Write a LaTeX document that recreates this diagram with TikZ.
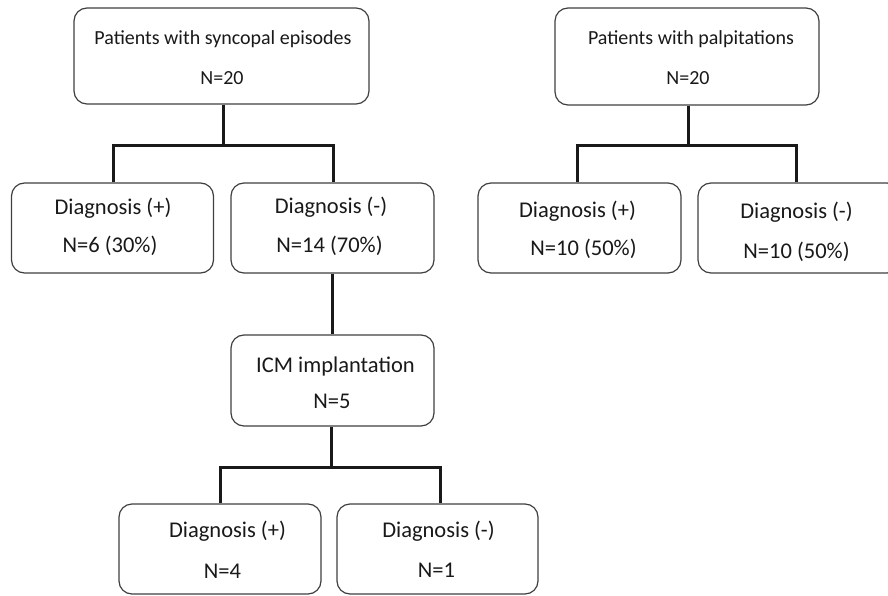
\documentclass[tikz,border=0pt]{standalone}
\usepackage{fontspec}
\setmainfont{Carlito}
\begin{document}
\begin{tikzpicture}[x=1pt,y=-1pt,
  box/.style={draw=black!75,line width=1.2pt,rounded corners=13pt,fill=white,inner sep=0pt,minimum width=#1},
  box/.default=202pt,
  conn/.style={draw=black!90,line width=3pt},
  big/.style={font=\fontsize{22.5}{26}\selectfont,text=black!90,anchor=base,inner sep=0pt},
  small/.style={font=\fontsize{20}{24}\selectfont,text=black!90,anchor=base,inner sep=0pt}]
\useasboundingbox (0,0) rectangle (888,596);
% boxes
\node[box=295pt,minimum height=96pt] (A) at (221.5,56) {};
\node[box=264pt,minimum height=97pt] (P) at (687,56.5) {};
\node[box=202pt,minimum height=90pt] (Lp) at (112.5,228) {};
\node[box=203pt,minimum height=90pt] (Lm) at (332.5,228) {};
\node[box=203pt,minimum height=90pt] (Pp) at (579.5,228) {};
\node[box=202pt,minimum height=90pt] (Pm) at (799,228) {};
\node[box=203pt,minimum height=91pt] (I) at (332.5,380.5) {};
\node[box=202pt,minimum height=90pt] (Bp) at (220,549) {};
\node[box=201pt,minimum height=90pt] (Bm) at (437.5,549) {};
% texts
\node[small] (tA1) at (223,45) {Patients with syncopal episodes};
\node[small] (tA2) at (222,85) {N=20};
\node[small] (tP1) at (691,45) {Patients with palpitations};
\node[small] (tP2) at (688,85) {N=20};
\node[big] (tLp1) at (113,214) {Diagnosis (+)};
\node[big] (tLp2) at (110,252) {N=6 (30\%)};
\node[big] (tLm1) at (331,213) {Diagnosis (-)};
\node[big] (tLm2) at (329.5,252) {N=14 (70\%)};
\node[big] (tPp1) at (577.5,217) {Diagnosis (+)};
\node[big] (tPp2) at (583.5,255) {N=10 (50\%)};
\node[big] (tPm1) at (796.5,218) {Diagnosis (-)};
\node[big] (tPm2) at (796.5,258) {N=10 (50\%)};
\node[big] (tI1) at (335.5,372) {ICM implantation};
\node[big] (tI2) at (332,408) {N=5};
\node[big] (tBp1) at (227.5,537) {Diagnosis (+)};
\node[big] (tBp2) at (222.5,578) {N=4};
\node[big] (tBm1) at (438.5,537) {Diagnosis (-)};
\node[big] (tBm2) at (436.5,577) {N=1};
% connectors
\path ([xshift=1.5pt]A.south) ++(0,41) coordinate (jA);
\draw[conn] ([xshift=1.5pt]A.south) -- (jA);
\draw[conn] ([xshift=0.5pt]Lp.north) |- (jA) -| ([xshift=0.5pt]Lm.north);
\path ([xshift=1pt]P.south) ++(0,40) coordinate (jP);
\draw[conn] ([xshift=1pt]P.south) -- (jP);
\draw[conn] ([xshift=-2.5pt]Pp.north) |- (jP) -| ([xshift=-3pt]Pm.north);
\draw[conn] ([xshift=-0.5pt]Lm.south) -- ([xshift=-0.5pt]I.north);
\path ([xshift=-1pt]I.south) ++(0,41) coordinate (jI);
\draw[conn] ([xshift=-1pt]I.south) -- (jI);
\draw[conn] (Bp.north) |- (jI) -| ([xshift=2.5pt]Bm.north);
\end{tikzpicture}
\end{document}
